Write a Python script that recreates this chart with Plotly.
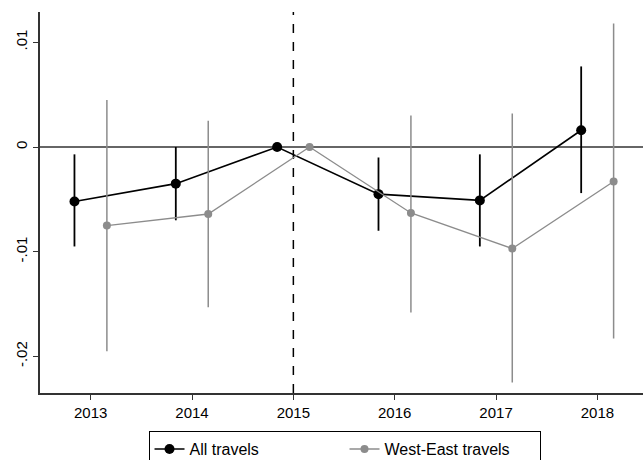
import plotly.graph_objects as go

years = [2013, 2014, 2015, 2016, 2017, 2018]
all_est = [-0.0052, -0.0035, 0.0, -0.0045, -0.0051, 0.0016]
all_lo = [-0.0095, -0.0070, 0.0, -0.0080, -0.0095, -0.0044]
all_hi = [-0.0007, 0.0000, 0.0, -0.0010, -0.0007, 0.0077]
we_est = [-0.0075, -0.0064, 0.0, -0.0063, -0.0097, -0.0033]
we_lo = [-0.0195, -0.0153, 0.0, -0.0158, -0.0225, -0.0183]
we_hi = [0.0045, 0.0025, 0.0, 0.0030, 0.0032, 0.0118]
offset = 0.16

y_ticks = [0.01, 0.0, -0.01, -0.02]
y_labels = [".01", "0", "-.01", "-.02"]

fig = go.Figure()
fig.add_trace(go.Scatter(
    x=[y - offset for y in years], y=all_est, mode="lines+markers", name="All travels",
    line=dict(color="black", width=1.6), marker=dict(color="black", size=10),
    error_y=dict(type="data", symmetric=False,
                 array=[h - e for h, e in zip(all_hi, all_est)],
                 arrayminus=[e - l for l, e in zip(all_lo, all_est)],
                 color="black", thickness=1.8, width=0),
))
fig.add_trace(go.Scatter(
    x=[y + offset for y in years], y=we_est, mode="lines+markers", name="West-East travels",
    line=dict(color="#8c8c8c", width=1.3), marker=dict(color="#8c8c8c", size=8),
    error_y=dict(type="data", symmetric=False,
                 array=[h - e for h, e in zip(we_hi, we_est)],
                 arrayminus=[e - l for l, e in zip(we_lo, we_est)],
                 color="#8c8c8c", thickness=1.5, width=0),
))

fig.add_shape(type="line", xref="paper", yref="y", x0=0, x1=1, y0=0, y1=0,
              line=dict(color="#333333", width=1.5), layer="below")
fig.add_shape(type="line", xref="x", yref="paper", x0=2015, x1=2015, y0=0, y1=1,
              line=dict(color="black", width=1.5, dash="dash"), layer="below")

fig.update_layout(
    width=643, height=460,
    margin=dict(l=40, r=0, t=12, b=67, autoexpand=False),
    paper_bgcolor="white", plot_bgcolor="white",
    font=dict(family="Liberation Sans, Arial, sans-serif", size=15, color="black"),
    showlegend=True,
    legend=dict(orientation="h", x=0.505, xanchor="center", y=-0.1, yanchor="top",
                bordercolor="black", borderwidth=1, font=dict(size=16),
                entrywidth=150, entrywidthmode="pixels", tracegroupgap=0),
    xaxis=dict(range=[2012.5, 2018.45], tickvals=years, ticktext=[str(y) for y in years],
               showgrid=False, zeroline=False, showline=True, linecolor="#333333", linewidth=1.5,
               ticks="outside", ticklen=5, tickcolor="#333333", automargin=False,
               tickfont=dict(size=15)),
    yaxis=dict(range=[-0.0235, 0.0129], tickvals=y_ticks, ticktext=y_labels, tickangle=-90,
               showgrid=False, zeroline=False, showline=True, linecolor="#333333", linewidth=1.5,
               ticks="outside", ticklen=5, tickcolor="#333333", automargin=False,
               tickfont=dict(size=15)),
)

fig.write_html("out.html", config={"displayModeBar": False},
               post_script="document.body.style.margin='0';document.body.style.overflow='hidden';")
